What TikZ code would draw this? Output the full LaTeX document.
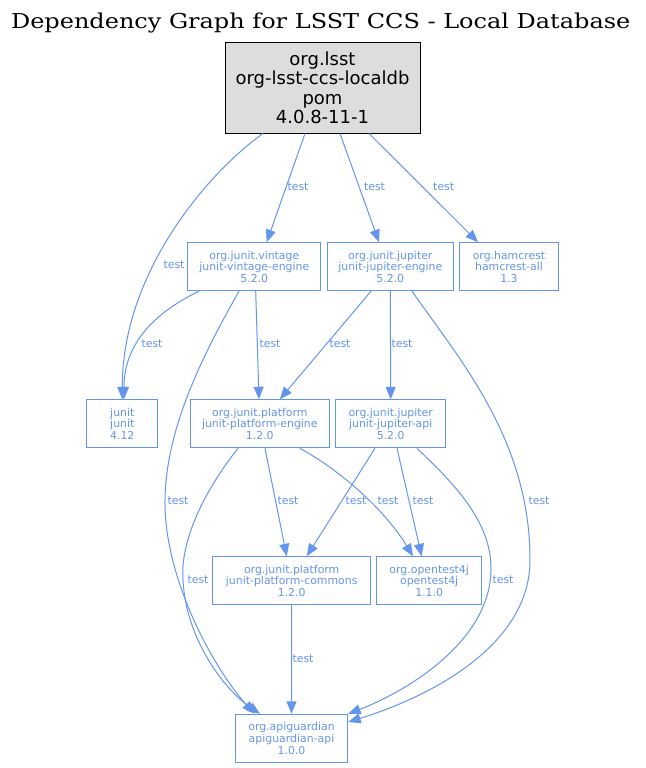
\documentclass[tikz,border=0pt]{standalone}
\usepackage{fontspec}
\setmainfont{DejaVu Sans}
\newfontfamily\titlefont[FakeStretch=1.17]{DejaVu Serif}
\usetikzlibrary{arrows.meta}
\definecolor{cfblue}{HTML}{6495ED}
\definecolor{rootgray}{HTML}{DDDDDD}
\tikzset{
  dep/.style={draw=cfblue, line width=1pt, text=cfblue, font=\fontsize{10.9}{11.7}\selectfont, align=center, inner sep=0pt, minimum height=48pt},
  rootbox/.style={draw=black, fill=rootgray, line width=1pt, font=\fontsize{18}{19.5}\selectfont, align=center, inner sep=0pt, minimum width=195pt, minimum height=90pt},
  edge/.style={draw=cfblue, line width=1pt, -{Triangle[length=12.5pt,width=10pt]}},
  lbl/.style={text=cfblue, font=\fontsize{10.9}{11.7}\selectfont, inner sep=0pt},
}
\begin{document}
\begin{tikzpicture}[x=1pt,y=-1pt]
\useasboundingbox (0,0) rectangle (645,768);
\node[font=\titlefont\fontsize{20.5}{24}\selectfont, anchor=base, inner sep=0pt] (title) at (320.7,29) {Dependency Graph for LSST CCS - Local Database};

\node[rootbox] (root) at (322.5,88) {org.lsst\\org-lsst-ccs-localdb\\pom\\4.0.8-11-1};
\node[dep, minimum width=133.3pt] (vint) at (254.3,266.7) {org.junit.vintage\\junit-vintage-engine\\5.2.0};
\node[dep, minimum width=126pt] (jeng) at (390.3,266.7) {org.junit.jupiter\\junit-jupiter-engine\\5.2.0};
\node[dep, minimum width=99.4pt] (ham) at (509,266.7) {org.hamcrest\\hamcrest-all\\1.3};
\node[dep, minimum width=71.3pt] (junit) at (122.3,423.8) {junit\\junit\\4.12};
\node[dep, minimum width=139pt] (peng) at (259.8,423.8) {org.junit.platform\\junit-platform-engine\\1.2.0};
\node[dep, minimum width=110pt] (japi) at (390.7,423.8) {org.junit.jupiter\\junit-jupiter-api\\5.2.0};
\node[dep, minimum width=158pt] (comm) at (291.7,580.8) {org.junit.platform\\junit-platform-commons\\1.2.0};
\node[dep, minimum width=105pt] (ot4j) at (429.2,580.8) {org.opentest4j\\opentest4j\\1.1.0};
\node[dep, minimum width=112.3pt] (api) at (291.5,738.3) {org.apiguardian\\apiguardian-api\\1.0.0};

% root edges
\draw[edge] ([xshift=-59.5pt]root.south) .. controls (205,175) and (122,275) .. (junit.north);
\draw[edge] ([xshift=-17.5pt]root.south) -- ([xshift=12.4pt]vint.north);
\draw[edge] ([xshift=17.5pt]root.south) -- ([xshift=-11.3pt]jeng.north);
\draw[edge] ([xshift=46.5pt]root.south) -- ([xshift=-31pt]ham.north);
% vintage edges
\draw[edge] ([xshift=-55.3pt]vint.south) .. controls (160,310) and (124,340) .. ([xshift=1.7pt]junit.north);
\draw[edge] ([xshift=1.4pt]vint.south) -- ([xshift=-0.8pt]peng.north);
\draw[edge] ([xshift=-15.3pt]vint.south) .. controls (200,360) and (166,430) .. (165,500) .. controls (164,580) and (215,670) .. ([xshift=-37pt]api.north);
% jupiter engine edges
\draw[edge] ([xshift=-19.3pt]jeng.south) -- ([xshift=20pt]peng.north);
\draw[edge] (jeng.south) -- (japi.north);
\draw[edge] ([xshift=21.7pt]jeng.south) .. controls (460,360) and (530,440) .. (530,560) .. controls (530,650) and (420,700) .. ([yshift=16.3pt]api.east);
% platform engine edges
\draw[edge] ([xshift=5.2pt]peng.south) -- ([xshift=-5pt]comm.north);
\draw[edge] ([xshift=40pt]peng.south) .. controls (340,470) and (385,510) .. ([xshift=-16.2pt]ot4j.north);
\draw[edge] ([xshift=-21.8pt]peng.south) .. controls (205,490) and (180,540) .. (183,580) .. controls (186,640) and (225,690) .. ([xshift=-31.5pt]api.north);
% jupiter api edges
\draw[edge] ([xshift=-15.7pt]japi.south) -- ([xshift=15pt]comm.north);
\draw[edge] ([xshift=6.3pt]japi.south) -- ([xshift=-7.5pt]ot4j.north);
\draw[edge] ([xshift=26.3pt]japi.south) .. controls (450,480) and (492,520) .. (491,570) .. controls (490,640) and (410,690) .. (api.north east);
% commons
\draw[edge] (comm.south) -- (api.north);

% labels
\node[lbl] (l1) at (174,265) {test};
\node[lbl] (l2) at (298,187) {test};
\node[lbl] (l3) at (374.5,187) {test};
\node[lbl] (l4) at (443.7,187) {test};
\node[lbl] (l5) at (152,344) {test};
\node[lbl] (l6) at (270,344) {test};
\node[lbl] (l7) at (178,501) {test};
\node[lbl] (l8) at (340,344) {test};
\node[lbl] (l9) at (402,344) {test};
\node[lbl] (l10) at (539,501) {test};
\node[lbl] (l11) at (288,501) {test};
\node[lbl] (l12) at (388,501) {test};
\node[lbl] (l13) at (198,580) {test};
\node[lbl] (l14) at (356,501) {test};
\node[lbl] (l15) at (423,501) {test};
\node[lbl] (l16) at (503,580) {test};
\node[lbl] (l17) at (303,659) {test};
\end{tikzpicture}
\end{document}
